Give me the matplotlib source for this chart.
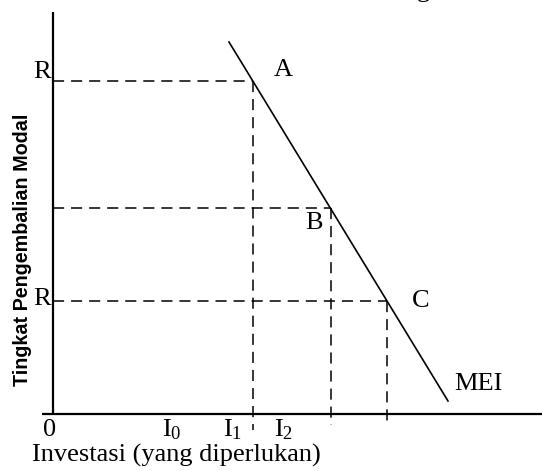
import matplotlib
matplotlib.use("Agg")
import matplotlib.pyplot as plt

# ---- data (investment on x, rate of return on y) ----
point_labels = ["A", "B", "C"]
invest = [200, 278, 334]
rate = [333, 206, 113]
mei_x = [176, 395]
mei_y = [372, 13]
tick_pos = [-3, 119, 180, 231]
tick_labels = ["0", "I$_0$", "I$_1$", "I$_2$"]
r_labels = ["R", "R"]
xlabel = "Investasi (yang diperlukan)"
ylabel = "Tingkat Pengembalian Modal"

plt.rcParams["lines.scale_dashes"] = False
plt.rcParams["mathtext.fontset"] = "custom"
plt.rcParams["mathtext.rm"] = "Liberation Serif"
plt.rcParams["mathtext.it"] = "Liberation Serif:italic"
serif = "Liberation Serif"
fs = 19

fig = plt.figure(figsize=(5.42, 4.71), dpi=100)
ax = fig.add_axes([0, 0, 1, 1])
ax.set_xlim(-53, 489)
ax.set_ylim(-57, 414)
ax.axis("off")

# axes lines
ax.plot([-11, 489], [0, 0], color="black", lw=1.6, solid_capstyle="butt")
ax.plot([0, 0], [0, 402], color="black", lw=1.6, solid_capstyle="butt")

dash = (0, (8, 5))
below = [-16, -11, -11]
for xi, yi, lo in zip(invest, rate, below):
    ax.plot([0, xi], [yi, yi], color="black", lw=1.1, linestyle=dash)
    ax.plot([xi, xi], [yi, lo], color="black", lw=1.1, linestyle=dash)

# MEI curve
ax.plot(mei_x, mei_y, color="black", lw=1.2)

offsets = [(22, 8), (-12, -11), (24, 0)]
for lab, xi, yi, off in zip(point_labels, invest, rate, offsets):
    ax.annotate(lab, (xi, yi), xytext=off, textcoords="offset points",
                ha="center", va="center", fontsize=fs, family=serif)
ax.annotate("MEI", (mei_x[1], mei_y[1]), xytext=(22, 12), textcoords="offset points",
            ha="center", va="center", fontsize=fs, family=serif)

# R labels
ax.text(-2, rate[0] + 3, r_labels[0], ha="right", va="baseline", fontsize=fs, family=serif)
ax.text(-2, rate[2] + 2, r_labels[1], ha="right", va="center", fontsize=fs, family=serif)

for p, t in zip(tick_pos, tick_labels):
    ax.text(p, -22.5, t, ha="center", va="baseline", fontsize=fs, family=serif)

ax.text(-21, -48, xlabel, ha="left", va="baseline", fontsize=fs, family=serif)
ax.text(-30, 164, ylabel, rotation=90, ha="center", va="center",
        fontsize=14.2, family="Liberation Sans", fontweight="bold")

# cropped title remnant at the top
ax.text(370, 417, "g", ha="center", va="baseline", fontsize=fs, family=serif)

fig.savefig("out.png", dpi=100)
